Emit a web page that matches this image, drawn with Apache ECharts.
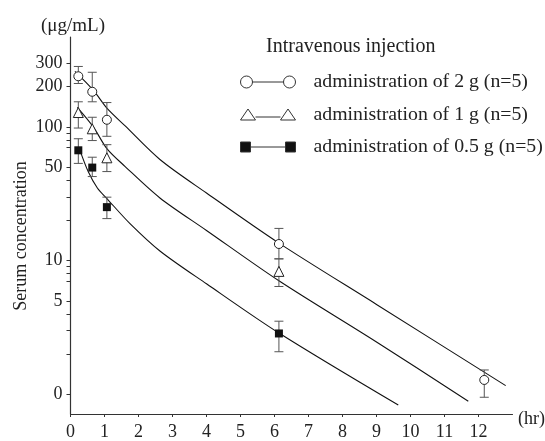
<!DOCTYPE html>
<html><head><meta charset="utf-8">
<script src="https://cdn.jsdelivr.net/npm/echarts@6/dist/echarts.min.js"></script>
<style>html,body{margin:0;padding:0;background:#fff}#c{width:545px;height:441px}</style>
</head><body><div id="c"></div>
<script>
// ---- data ----
const seriesNames = ['administration of 2 g (n=5)', 'administration of 1 g (n=5)', 'administration of 0.5 g (n=5)'];
const xTickValues = [0,1,2,3,4,5,6,7,8,9,10,11,12];
const yTickValues = [1, 5, 10, 50, 100, 200, 300];
const yTickLabels = ['0', '5', '10', '50', '100', '200', '300'];
const yMinorTicks = [2, 3, 4, 7, 8, 9, 20, 30, 40, 70, 80, 90];

const times2g = [0.23, 0.64, 1.07, 6.13, 12.17];
const mean2g  = [239, 183, 113, 13.3, 1.28];
const high2g  = [283, 256, 152, 17.4, 1.52];
const low2g   = [211, 154, 85, 10.3, 0.95];

const times1g = [0.23, 0.64, 1.07, 6.13];
const mean1g  = [128, 96.7, 58.7, 8.3];
const high1g  = [154, 118, 73.6, 10.3];
const low1g   = [98, 79, 46.3, 6.4];

const times05g = [0.23, 0.64, 1.07, 6.13];
const mean05g  = [66.8, 49.6, 25.1, 2.85];
const high05g  = [81.5, 59.3, 29.8, 3.52];
const low05g   = [53.3, 42.5, 20.6, 2.08];

// fitted curves
const curveT2g = [0.13, 0.67, 1.07, 1.6, 2.63, 4, 6.13, 9, 12.8];
const curveV2g = [260, 188, 138, 102, 57, 32, 13.5, 4.7, 1.16];
const curveT1g = [0.2, 0.67, 1.07, 1.6, 2.63, 4, 6.13, 9, 11.7];
const curveV1g = [140, 100, 68.8, 50.7, 29.4, 16.8, 7.06, 2.46, 0.887];
const curveT05g = [0.26, 0.52, 0.79, 1.07, 1.75, 2.63, 4, 6.13, 9.64];
const curveV05g = [68.8, 46.3, 34.9, 29.1, 18.9, 11.8, 6.7, 2.87, 0.83];

// ---- build ----
const L = Math.log10;
const FONT = 'Liberation Serif, Times New Roman, serif';
const pts = (t, v) => t.map((x, i) => [x, L(v[i])]);
const errs = (t, lo, hi) => t.map((x, i) => [x, L(lo[i]), L(hi[i])]);

function errorSeries(t, lo, hi) {
  return {
    type: 'custom', z: 3, silent: true,
    data: errs(t, lo, hi),
    encode: { x: 0, y: [1, 2] },
    renderItem(params, api) {
      const x = api.value(0);
      const a = api.coord([x, api.value(1)]);
      const b = api.coord([x, api.value(2)]);
      const w = 4.5;
      const st = { stroke: '#555', lineWidth: 1 };
      return { type: 'group', children: [
        { type: 'line', shape: { x1: a[0], y1: a[1], x2: b[0], y2: b[1] }, style: st },
        { type: 'line', shape: { x1: a[0] - w, y1: a[1], x2: a[0] + w, y2: a[1] }, style: st },
        { type: 'line', shape: { x1: b[0] - w, y1: b[1], x2: b[0] + w, y2: b[1] }, style: st }
      ]};
    }
  };
}
function curveSeries(t, v) {
  return {
    type: 'line', z: 2, silent: true, smooth: 0.3,
    showSymbol: false, symbol: 'none',
    data: pts(t, v),
    lineStyle: { color: '#111', width: 1.1 }
  };
}

const yMin = L(0.712), yMax = L(470);
const labelFor = v => {
  let best = 0, d = 1e9;
  yTickValues.forEach((tv, i) => { const dd = Math.abs(L(tv) - v); if (dd < d) { d = dd; best = i; } });
  return yTickLabels[best];
};

const circleIcon = 'path://M0,6A6,6,0,1,0,12,6A6,6,0,1,0,0,6Z M12,6L43,6 M43,6A6,6,0,1,0,55,6A6,6,0,1,0,43,6Z';
const triIcon = 'path://M0,12L7.5,1L15,12Z M15,9L40,9 M40,12L47.5,1L55,12Z';
const sqIcon = 'path://M0,1L10,1L10,11L0,11Z M10,6L45,6 M45,1L55,1L55,11L45,11Z';

const chart = echarts.init(document.getElementById('c'), null, { renderer: 'canvas' });
chart.setOption({
  animation: false,
  backgroundColor: '#fff',
  textStyle: { fontFamily: FONT },
  title: [
    { text: 'Intravenous injection', left: 261, top: 32, textStyle: { fontFamily: FONT, fontSize: 20, fontWeight: 'normal', color: '#222' } },
    { text: '(μg/mL)', left: 36, top: 12, textStyle: { fontFamily: FONT, fontSize: 19, fontWeight: 'normal', color: '#222' } }
  ],
  graphic: [{
    type: 'text', x: 21, y: 236, rotation: Math.PI / 2,
    style: { text: 'Serum concentration', font: '18px ' + FONT, fill: '#222', align: 'center', verticalAlign: 'middle' }
  }, {
    type: 'text', x: 518, y: 419,
    style: { text: '(hr)', font: '18px ' + FONT, fill: '#222', align: 'left', verticalAlign: 'middle' }
  }],
  legend: {
    orient: 'vertical', left: 235, top: 67, itemWidth: 55, itemHeight: 12, itemGap: 12.5,
    selectedMode: false,
    textStyle: { fontFamily: FONT, fontSize: 19.8, color: '#222', padding: [0, 0, 0, 13] },
    data: [
      { name: seriesNames[0], icon: circleIcon, itemStyle: { color: '#fff', borderColor: '#333', borderWidth: 1 } },
      { name: seriesNames[1], icon: triIcon, itemStyle: { color: '#fff', borderColor: '#333', borderWidth: 1 } },
      { name: seriesNames[2], icon: sqIcon, itemStyle: { color: '#111', borderColor: '#333', borderWidth: 1 } }
    ]
  },
  grid: { left: 70.5, right: 32.5, top: 37, bottom: 22, containLabel: false },
  xAxis: {
    type: 'value', min: 0, max: 13, interval: 1,
    axisLine: { show: true, onZero: false, lineStyle: { color: '#333', width: 1.2 } },
    axisTick: { show: true, length: 3, lineStyle: { color: '#333' }, customValues: xTickValues },
    axisLabel: { customValues: xTickValues, margin: 9, fontFamily: FONT, fontSize: 18, color: '#222' },
    splitLine: { show: false }
  },
  yAxis: {
    type: 'value', min: yMin, max: yMax,
    axisLine: { show: true, onZero: false, lineStyle: { color: '#333', width: 1.2 } },
    axisTick: { show: true, length: 4, lineStyle: { color: '#333' },
      customValues: yTickValues.concat(yMinorTicks).map(L) },
    axisLabel: { customValues: yTickValues.map(L), formatter: labelFor, margin: 8,
      fontFamily: FONT, fontSize: 18, color: '#222' },
    splitLine: { show: false }
  },
  series: [
    curveSeries(curveT2g, curveV2g),
    curveSeries(curveT1g, curveV1g),
    curveSeries(curveT05g, curveV05g),
    errorSeries(times2g, low2g, high2g),
    errorSeries(times1g, low1g, high1g),
    errorSeries(times05g, low05g, high05g),
    { name: seriesNames[0], type: 'scatter', z: 5, symbol: 'circle', symbolSize: 9,
      itemStyle: { color: '#fff', borderColor: '#222', borderWidth: 1, opacity: 1 }, data: pts(times2g, mean2g) },
    { name: seriesNames[1], type: 'scatter', z: 5, symbol: 'triangle', symbolSize: 10,
      itemStyle: { color: '#fff', borderColor: '#222', borderWidth: 1, opacity: 1 }, data: pts(times1g, mean1g) },
    { name: seriesNames[2], type: 'scatter', z: 5, symbol: 'rect', symbolSize: 8,
      itemStyle: { color: '#111', borderColor: '#111', borderWidth: 0, opacity: 1 }, data: pts(times05g, mean05g) }
  ]
});
</script>
</body></html>
